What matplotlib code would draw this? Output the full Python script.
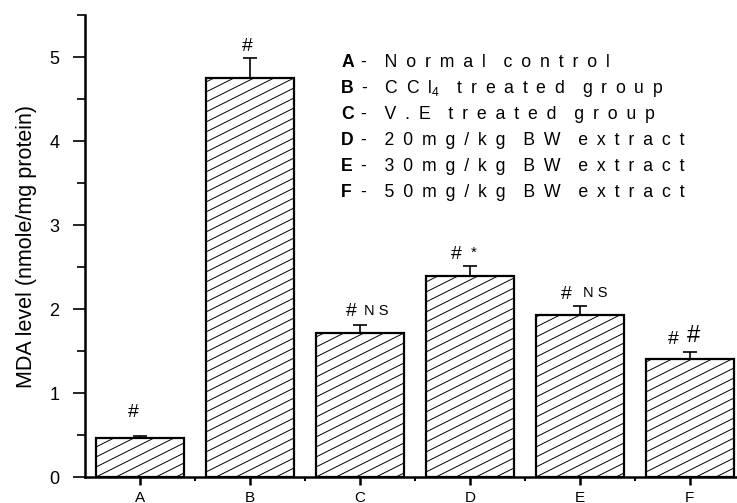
import numpy as np
import matplotlib
matplotlib.use('Agg')
import matplotlib.pyplot as plt
import matplotlib.hatch as mhatch
from matplotlib.path import Path
from matplotlib.ticker import MultipleLocator, FixedLocator

plt.rcParams['font.family'] = ['Liberation Sans', 'DejaVu Sans']
plt.rcParams['mathtext.fontset'] = 'custom'
plt.rcParams['mathtext.rm'] = 'Liberation Sans'
plt.rcParams['hatch.linewidth'] = 0.7

# 数据
groups = ['A', 'B', 'C', 'D', 'E', 'F']
mda = [0.47, 4.75, 1.72, 2.39, 1.93, 1.41]
sem = [0.02, 0.24, 0.09, 0.12, 0.10, 0.08]
marks = [['#'], ['#'], ['#', 'N S'], ['#', '*'], ['#', 'N S'], ['#', '#']]
group_names = ['Normal control', 'CCl4 treated group', 'V.E treated group',
               '20mg/kg BW extract', '30mg/kg BW extract', '50mg/kg BW extract']

SP = '\u2002'  # 宽空格


def spaced(s):
    words = s.split(' ')
    out = []
    for w in words:
        if w == 'CCl4':
            out.append(SP.join('CCl') + r'$\mathregular{_4}$')
        else:
            out.append(SP.join(w))
    return (SP * 2).join(out)


# 斜线填充 (比45度平一些)
class FlatHatch(mhatch.HatchPatternBase):
    def __init__(self, hatch, density):
        n = 10 if '/' in hatch else 0
        segs = []
        for k in range(-n // 2 - 1, n + 1):
            c = (k + 0.5) / n if n else 0
            x0 = max(0.0, -2 * c)
            x1 = min(1.0, 2 * (1 - c))
            if n and x1 > x0 + 1e-9:
                segs.append((x0, 0.5 * x0 + c, x1, 0.5 * x1 + c))
        self.segs = segs
        self.num_vertices = 2 * len(segs)

    def set_vertices_and_codes(self, vertices, codes):
        for i, (x0, y0, x1, y1) in enumerate(self.segs):
            vertices[2 * i] = (x0, y0)
            vertices[2 * i + 1] = (x1, y1)
            codes[2 * i] = Path.MOVETO
            codes[2 * i + 1] = Path.LINETO


mhatch._hatch_types = [FlatHatch if t is mhatch.NorthEastHatch else t
                       for t in mhatch._hatch_types]

fig = plt.figure(figsize=(7.37, 5.03), dpi=100)
ax = fig.add_axes([85 / 737, 26 / 503, 652 / 737, 462 / 503])

x = np.arange(len(groups))
ax.bar(x, mda, width=0.8, color='white', edgecolor='black', linewidth=1.6,
       hatch='/', zorder=2)
ax.errorbar(x, mda, yerr=[np.zeros(len(sem)), sem], fmt='none', ecolor='black',
            elinewidth=1.2, capsize=4.7, capthick=1.2, zorder=3)

# 显著性标记 (偏移, 单位 pt)
first_off = [(-5, 17), (-2, 8.4), (-6.5, 10), (-9.6, 8.4), (-9.6, 8.9), (-11.8, 8.9)]
second_off = [None, None, (3, 10), (2.7, 9.5), (2, 9.5), (2.7, 11.4)]
for i in range(len(groups)):
    top = mda[i] + sem[i]
    m = marks[i]
    ax.annotate(m[0], (x[i], top), xytext=first_off[i], textcoords='offset points',
                ha='center', va='center', fontsize=14)
    if len(m) > 1:
        if m[1] == '#':
            ax.annotate(m[1], (x[i], top), xytext=second_off[i], textcoords='offset points',
                        ha='center', va='center', fontsize=17)
        elif m[1] == '*':
            ax.annotate(m[1], (x[i], top), xytext=second_off[i], textcoords='offset points',
                        ha='center', va='center', fontsize=11)
        else:
            ax.annotate(m[1], (x[i], top), xytext=second_off[i], textcoords='offset points',
                        ha='left', va='center', fontsize=10.5)

# 图例文字
for j, (letter, name) in enumerate(zip(groups, group_names)):
    yy = 0.898 - j * 0.0563
    ax.text(0.393, yy, letter, transform=ax.transAxes, fontsize=12.7,
            fontweight='bold', ha='left', va='center')
    ax.text(0.423, yy, '-' + SP * 2 + spaced(name), transform=ax.transAxes,
            fontsize=12.7, ha='left', va='center')

ax.set_xlim(-0.5, 5.43)
ax.set_ylim(0, 5.5)
ax.set_xticks(x)
ax.set_xticklabels(groups, fontsize=11)
ax.xaxis.set_minor_locator(FixedLocator(x[:-1] + 0.5))
ax.yaxis.set_major_locator(MultipleLocator(1))
ax.yaxis.set_minor_locator(MultipleLocator(0.5))
ax.tick_params(axis='y', which='major', length=8.6, width=1.2, labelsize=13, pad=10)
ax.tick_params(axis='y', which='minor', length=5.8, width=1.2)
ax.tick_params(axis='x', which='major', length=6, width=1.8, pad=4)
ax.tick_params(axis='x', which='minor', length=3, width=1.5)
ax.set_ylabel('MDA level (nmole/mg protein)', fontsize=15.5, labelpad=9)

for s in ['top', 'right']:
    ax.spines[s].set_visible(False)
for s in ['left', 'bottom']:
    ax.spines[s].set_linewidth(1.8)

fig.savefig('out.png', dpi=100)
